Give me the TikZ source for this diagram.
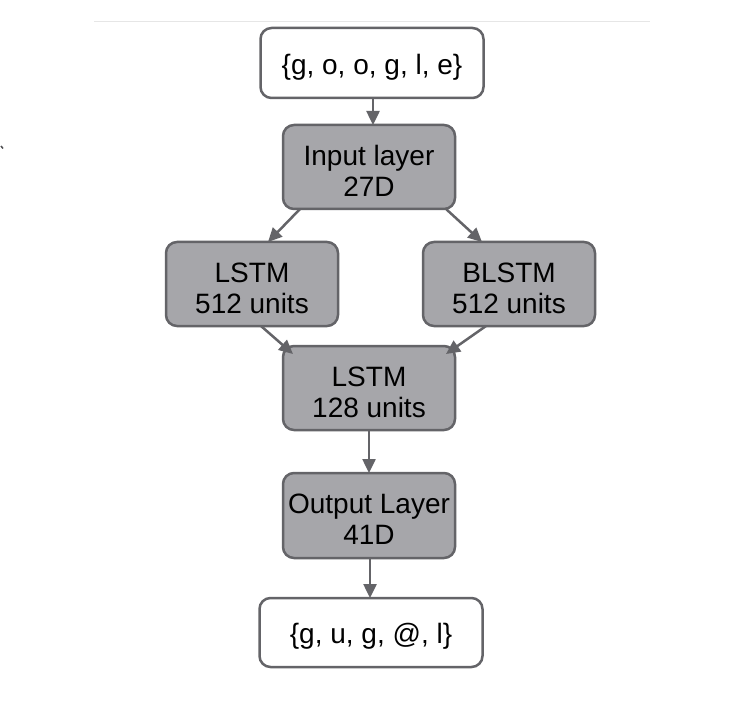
\documentclass[tikz,border=0pt]{standalone}
\usepackage{fontspec}
\setmainfont{Liberation Sans}
\usetikzlibrary{arrows.meta,calc}
\definecolor{boxgray}{RGB}{166,166,170}
\definecolor{edgegray}{RGB}{100,100,104}
\definecolor{rulegray}{RGB}{230,230,230}
\begin{document}
\begin{tikzpicture}[x=1pt,y=-1pt,
  every node/.style={font=\fontsize{28}{31}\selectfont, align=center, inner sep=0pt, outer sep=0pt},
  whitebox/.style={draw=edgegray, line width=2.5pt, fill=white, rounded corners=11pt, minimum width=223pt, minimum height=70pt},
  graybox/.style={draw=edgegray, line width=2.5pt, fill=boxgray, rounded corners=11pt, minimum width=172pt, minimum height=84pt},
  txt/.style={label={[yshift=-4pt, text=black]center:{#1}}},
  conn/.style={draw=edgegray, line width=2.5pt, -{Triangle[length=14pt,width=13pt]}}
]
\useasboundingbox (0,0) rectangle (730,708);
\fill[white] (0,0) rectangle (730,708);
\draw[rulegray, line width=1pt] (94,22) -- (650,22);
\draw[edgegray!80!black, line width=1.5pt] (1,146) -- (3,148.5);

\node[whitebox, txt={\{g, o, o, g, l, e\}}] (in) at (372,63) {};
\node[graybox, txt={Input layer\\27D}] (inp) at (369,167) {};
\node[graybox, txt={LSTM\\512 units}] (l1) at (252,284) {};
\node[graybox, txt={BLSTM\\512 units}] (bl) at (509,284) {};
\node[graybox, txt={LSTM\\128 units}] (l2) at (369,388) {};
\node[graybox, minimum height=85pt, txt={Output Layer\\41D}] (outl) at (369,515.5) {};
\node[whitebox, minimum height=69pt, txt={\{g, u, g, @, l\}}] (out) at (371,632.5) {};

\draw[conn] ($(in.south)+(1,0)$) -- ($(in.south |- inp.north)+(1,0)$);
\draw[conn] ($(inp.south west)+(17,0)$) -- ($(l1.north)+(16,0)$);
\draw[conn] ($(inp.south east)+(-9,0)$) -- ($(bl.north)+(-27,0)$);
\draw[conn] ($(l1.south)+(9,0)$) -- ($(l2.north west)+(10,8)$);
\draw[conn] ($(bl.south)+(-23,0)$) -- ($(l2.north east)+(-9,8)$);
\draw[conn] (l2.south) -- (outl.north);
\draw[conn] ($(outl.south)+(1,0)$) -- ($(outl.south |- out.north)+(1,0)$);
\end{tikzpicture}
\end{document}
